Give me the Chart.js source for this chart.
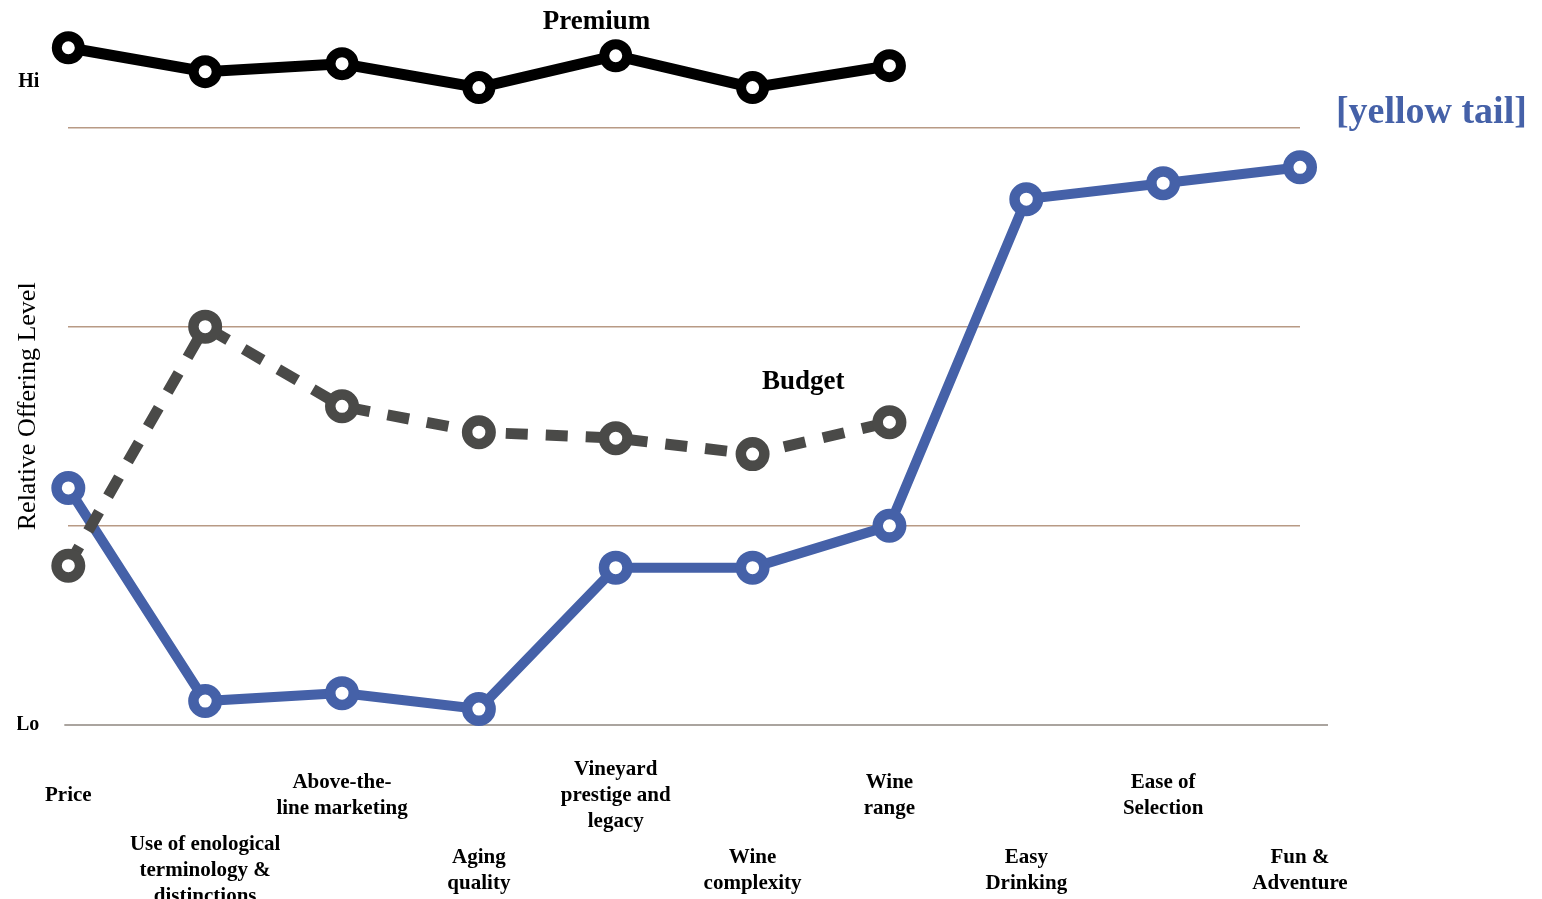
<!DOCTYPE html>
<html><head><meta charset="utf-8">
<script src="https://cdn.jsdelivr.net/npm/chart.js@4.4.1/dist/chart.umd.min.js"></script>
<style>html,body{margin:0;padding:0;background:#fff;overflow:hidden;width:1542px;height:899px}canvas{display:block}</style>
</head><body><canvas id="c" width="1542" height="925"></canvas>
<script>
const categories = [
  ['Price'],
  ['Use of enological', 'terminology &', 'distinctions'],
  ['Above-the-', 'line marketing'],
  ['Aging', 'quality'],
  ['Vineyard', 'prestige and', 'legacy'],
  ['Wine', 'complexity'],
  ['Wine', 'range'],
  ['Easy', 'Drinking'],
  ['Ease of', 'Selection'],
  ['Fun &', 'Adventure']
];
const premium    = [3.40, 3.28, 3.32, 3.20, 3.36, 3.20, 3.31];
const budget     = [0.80, 2.00, 1.60, 1.47, 1.44, 1.36, 1.52];
const yellowTail = [1.19, 0.12, 0.16, 0.08, 0.79, 0.79, 1.00, 2.64, 2.72, 2.80];
const yTickValues = [0, 1, 2, 3, 3.23];
const yTickLabels = ['Lo', '', '', '', 'Hi'];
const seriesNames = ['Premium', 'Budget', '[yellow tail]'];
const yAxisTitle = 'Relative Offering Level';

const SERIF = '"Liberation Serif", "DejaVu Serif", serif';

const textPlugin = {
  id: 'texts',
  beforeDatasetsDraw(chart) {
    const {ctx, chartArea, scales} = chart;
    const y0 = scales.y.getPixelForValue(0);
    ctx.save();
    ctx.strokeStyle = '#aaa49f';
    ctx.lineWidth = 2;
    ctx.beginPath();
    ctx.moveTo(chartArea.left - 4, y0);
    ctx.lineTo(chartArea.right + 28, y0);
    ctx.stroke();
    ctx.restore();
  },
  afterDraw(chart) {
    const {ctx, scales} = chart;
    const x = scales.x, y = scales.y;
    ctx.save();
    ctx.textAlign = 'center';
    ctx.textBaseline = 'middle';
    ctx.fillStyle = '#000';
    ctx.font = 'bold 27px ' + SERIF;
    ctx.fillText(seriesNames[0], x.getPixelForValue(3.86), y.getPixelForValue(3.53));
    ctx.fillText(seriesNames[1], x.getPixelForValue(5.37), y.getPixelForValue(1.72));
    ctx.fillStyle = '#4561a8';
    ctx.font = 'bold 38px ' + SERIF;
    ctx.fillText(seriesNames[2], x.getPixelForValue(9.96), y.getPixelForValue(3.07));
    // y-axis title
    ctx.fillStyle = '#000';
    ctx.font = '26px ' + SERIF;
    ctx.translate(28, y.getPixelForValue(1.6));
    ctx.rotate(-Math.PI / 2);
    ctx.fillText(yAxisTitle, 0, 0);
    ctx.restore();
  }
};

const pointStyle = (color, r, bw) => ({
  borderColor: color,
  pointBorderColor: color,
  pointBackgroundColor: '#fff',
  pointRadius: r,
  pointBorderWidth: bw,
  pointHoverRadius: r,
  clip: false,
  tension: 0,
  fill: false
});

const tickFont = {family: SERIF, size: 21, weight: 'bold', lineHeight: 1.22};

new Chart(document.getElementById('c'), {
  type: 'line',
  data: {
    labels: categories,
    datasets: [
      Object.assign({label: seriesNames[0], data: premium, borderWidth: 11}, pointStyle('#000000', 11.5, 10)),
      Object.assign({label: seriesNames[1], data: budget, borderWidth: 11, borderDash: [22, 18]}, pointStyle('#4a4a48', 11.75, 10.5)),
      Object.assign({label: seriesNames[2], data: yellowTail, borderWidth: 10}, pointStyle('#4561a8', 11.75, 10.5))
    ]
  },
  options: {
    responsive: false,
    animation: false,
    events: [],
    layout: {padding: {left: 13, right: 242, top: 8, bottom: 0}},
    plugins: {legend: {display: false}, tooltip: {enabled: false}},
    scales: {
      x: {
        type: 'category',
        position: 'bottom',
        offset: false,
        weight: 1,
        grid: {display: false, drawTicks: false},
        border: {display: false},
        afterFit(s) { s.height = 108; },
        ticks: {
          autoSkip: false, maxRotation: 0, minRotation: 0,
          padding: 45, crossAlign: 'center',
          color: '#000',
          font: tickFont,
          callback: (v, i) => (i % 2 === 0 ? categories[i] : '')
        }
      },
      x2: {
        type: 'category',
        position: 'bottom',
        offset: false,
        weight: 2,
        labels: categories,
        grid: {display: false, drawTicks: false},
        border: {display: false},
        afterFit(s) { s.height = 92; },
        ticks: {
          autoSkip: false, maxRotation: 0, minRotation: 0,
          padding: 12, crossAlign: 'center',
          color: '#000',
          font: tickFont,
          callback: (v, i) => (i % 2 === 1 ? categories[i] : '')
        }
      },
      y: {
        min: 0, max: 3.434,
        afterFit(s) { s.width = 51; },
        afterBuildTicks(s) { s.ticks = yTickValues.map(v => ({value: v})); },
        border: {display: false},
        grid: {
          drawTicks: false,
          lineWidth: 1.6,
          color: (c) => {
            const v = c.tick ? c.tick.value : null;
            if (v === 0) return '#aaa49f';
            if (v === 3.23) return 'rgba(0,0,0,0)';
            return '#b89a85';
          }
        },
        ticks: {
          padding: 29,
          color: '#000',
          font: {family: SERIF, size: 20, weight: 'bold'},
          callback: (v) => {
            const i = yTickValues.indexOf(v);
            return i >= 0 ? yTickLabels[i] : '';
          }
        }
      }
    }
  },
  plugins: [textPlugin]
});
</script>
</body></html>
